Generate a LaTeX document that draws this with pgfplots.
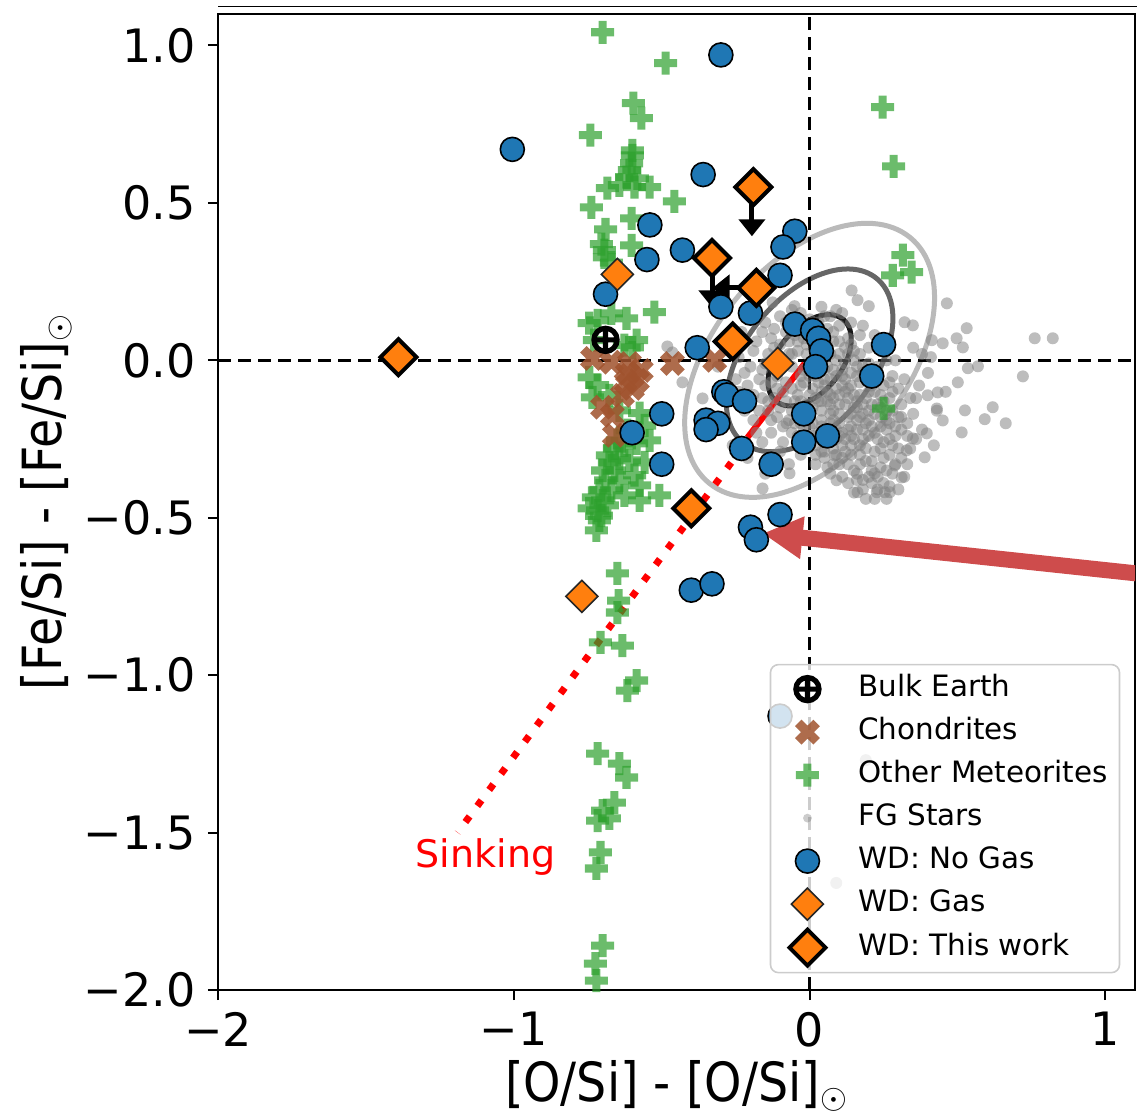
\documentclass[border=0pt]{standalone}
\usepackage{pgfplots}
\pgfplotsset{compat=1.18}
\usepackage{fontspec}
\setmainfont{DejaVu Sans}
\newfontfamily\condfont[FakeStretch=0.88]{DejaVu Sans}
\usetikzlibrary{arrows.meta}

\definecolor{wdblue}{HTML}{1F77B4}
\definecolor{wdorange}{HTML}{FF7F0E}
\definecolor{metgreen}{HTML}{2CA02C}
\definecolor{chondbrown}{HTML}{A0522D}
\definecolor{arrowred}{RGB}{206,76,76}

% square diamond (matplotlib 'D')
\pgfdeclareplotmark{Dmd}{%
  \pgfpathmoveto{\pgfqpoint{0pt}{\pgfplotmarksize}}%
  \pgfpathlineto{\pgfqpoint{\pgfplotmarksize}{0pt}}%
  \pgfpathlineto{\pgfqpoint{0pt}{-\pgfplotmarksize}}%
  \pgfpathlineto{\pgfqpoint{-\pgfplotmarksize}{0pt}}%
  \pgfpathclose\pgfusepathqfillstroke}
% filled plus (matplotlib 'P')
\pgfdeclareplotmark{Pfill}{%
  \pgfpathrectanglecorners{\pgfqpoint{-\pgfplotmarksize}{-0.35\pgfplotmarksize}}{\pgfqpoint{\pgfplotmarksize}{0.35\pgfplotmarksize}}%
  \pgfpathrectanglecorners{\pgfqpoint{-0.35\pgfplotmarksize}{-\pgfplotmarksize}}{\pgfqpoint{0.35\pgfplotmarksize}{\pgfplotmarksize}}%
  \pgfusepathqfill}
% filled x (matplotlib 'X')
\pgfdeclareplotmark{Xfill}{%
  \pgfscope\pgftransformrotate{45}%
  \pgfpathrectanglecorners{\pgfqpoint{-\pgfplotmarksize}{-0.35\pgfplotmarksize}}{\pgfqpoint{\pgfplotmarksize}{0.35\pgfplotmarksize}}%
  \pgfpathrectanglecorners{\pgfqpoint{-0.35\pgfplotmarksize}{-\pgfplotmarksize}}{\pgfqpoint{0.35\pgfplotmarksize}{\pgfplotmarksize}}%
  \pgfusepathqfill\endpgfscope}
% bold circled plus (Earth symbol)
\pgfdeclareplotmark{Earth}{%
  \pgfscope\pgfsetlinewidth{2.6pt}\pgfsetstrokecolor{black}%
  \pgfpathcircle{\pgfpointorigin}{\pgfplotmarksize}%
  \pgfpathmoveto{\pgfqpoint{-\pgfplotmarksize}{0pt}}\pgfpathlineto{\pgfqpoint{\pgfplotmarksize}{0pt}}%
  \pgfpathmoveto{\pgfqpoint{0pt}{-\pgfplotmarksize}}\pgfpathlineto{\pgfqpoint{0pt}{\pgfplotmarksize}}%
  \pgfusepathqstroke\endpgfscope}

\begin{document}
\begin{tikzpicture}
\begin{axis}[name=ax, scale only axis, width=458.5pt, height=488pt,
  xmin=-2, xmax=1.1, ymin=-2, ymax=1.1,
  xtick={-2,-1,0,1}, xticklabels={−2,−1,0,1},
  ytick={-2,-1.5,-1,-0.5,0,0.5,1},
  yticklabels={−2.0,−1.5,−1.0,−0.5,0.0,0.5,1.0},
  tick pos=left, tick align=outside, major tick length=5pt,
  every tick/.style={black, line width=1pt},
  axis line style={line width=1pt},
  ticklabel style={font=\fontsize{23}{23}\selectfont, inner sep=0pt},
  yticklabel style={xshift=-6pt},
  xticklabel style={yshift=-6pt},
  xlabel={[O/Si] - [O/Si]$_{\odot}$},
  ylabel={[Fe/Si] - [Fe/Si]$_{\odot}$},
  label style={font=\condfont\fontsize{27}{27}\selectfont},
  xlabel style={at={([yshift=-48pt]axis description cs:0.5,0)}, anchor=center},
  ylabel style={at={([xshift=-86pt]axis description cs:0,0.5)}, anchor=center},
  legend image code/.code={\path[draw=none, fill=none] (-14.5pt,-5pt) rectangle (8pt,5pt);
    \draw[only marks] plot coordinates {(0pt,0pt)};},
  legend style={at={(0.984,0.017)}, anchor=south east, draw=black!20,
    line width=0.8pt, rounded corners=4pt, fill=white, fill opacity=0.8,
    draw opacity=1, text opacity=1, font=\fontsize{14.7}{17}\selectfont,
    inner xsep=4pt, inner ysep=3.5pt, row sep=4pt, column sep=14.5pt,
    nodes={inner sep=2pt, text height=10.5pt, text depth=3pt}},
  legend cell align=left,
]

% FG stars
\addplot[forget plot, only marks, mark=*, mark size=3pt,
  mark options={fill=black!50, fill opacity=0.52, draw opacity=0}] coordinates {
(-0.12,0.10) (-0.08,0.12) (-0.05,0.08) (-0.10,0.05) (-0.14,0.02) (-0.09,0.00)
(-0.04,0.03) (0.00,0.09) (0.03,0.12) (0.06,0.10) (0.08,0.06) (0.04,0.04)
(0.01,0.00) (-0.02,-0.03) (-0.06,-0.02) (-0.11,-0.05) (-0.15,-0.08) (-0.08,-0.07)
(-0.03,-0.08) (0.02,-0.05) (0.06,-0.02) (0.10,0.02) (0.12,-0.01) (0.09,-0.05)
(0.05,-0.08) (0.00,-0.11) (-0.05,-0.13) (-0.10,-0.15) (-0.13,-0.19) (-0.07,-0.19)
(-0.02,-0.16) (0.03,-0.13) (0.07,-0.11) (0.11,-0.08) (0.14,-0.04) (0.17,-0.07)
(0.15,-0.11) (0.12,-0.14) (0.08,-0.16) (0.04,-0.19) (0.00,-0.21) (-0.04,-0.24)
(-0.09,-0.26) (-0.12,-0.30) (0.02,-0.27) (0.06,-0.23) (0.10,-0.20) (0.13,-0.18)
(0.16,-0.15) (0.19,-0.12) (0.21,-0.08) (0.18,-0.02) (0.15,0.03) (0.13,0.07)
(0.10,0.11) (0.22,-0.17) (0.19,-0.20) (0.16,-0.22) (0.12,-0.25) (0.08,-0.28)
(0.05,-0.31) (0.10,-0.33) (0.14,-0.30) (0.17,-0.27) (0.20,-0.24) (0.24,-0.21)
(0.25,-0.26) (0.22,-0.29) (0.19,-0.32) (0.15,-0.35) (0.20,-0.37) (0.24,-0.34)
(0.27,-0.30) (0.29,-0.24) (0.26,-0.16) (0.24,-0.11) (0.28,-0.05) (0.23,-0.02)
(0.31,-0.14) (0.33,-0.20) (0.30,-0.28) (0.25,-0.39) (0.18,-0.41) (0.22,-0.44)
(0.13,-0.39) (0.07,-0.36) (0.02,-0.33) (-0.03,-0.30) (-0.07,-0.33) (0.11,0.15)
(0.04,0.17) (-0.03,0.15) (-0.15,0.12) (-0.18,0.06) (-0.20,-0.02) (-0.19,-0.11)
(-0.22,-0.16) (-0.18,-0.23) (-0.25,-0.06) (-0.27,0.03) (-0.23,0.09) (0.07,0.02)
(0.03,-0.02) (-0.01,0.05) (0.09,-0.09) (0.13,-0.12) (0.17,-0.18) (0.21,-0.21)
(0.11,-0.23) (0.06,-0.13) (0.01,-0.09) (0.04,-0.16) (0.08,-0.19) (0.14,-0.21)
(0.18,-0.14) (0.20,-0.10) (0.16,-0.05) (0.12,-0.06) (0.08,-0.12) (0.05,-0.06)
(0.10,-0.17) (0.15,-0.25) (0.19,-0.28) (0.12,-0.29) (0.09,-0.25) (0.23,-0.25)
(0.27,-0.20) (0.03,-0.23) (-0.01,-0.18) (-0.05,-0.20) (-0.09,-0.10) (-0.12,-0.12)
(-0.16,-0.03) (-0.07,0.06) (0.00,0.13) (0.07,0.14) (0.17,0.08) (0.20,0.04)
(0.26,0.00) (0.30,-0.09) (0.35,-0.17) (0.36,-0.25) (0.33,-0.33) (0.28,-0.36)
(0.30,-0.41) (0.26,-0.44) (-0.28,-0.12) (-0.31,-0.02) (-0.33,-0.21) (-0.26,-0.27)
(-0.21,-0.31) (-0.15,-0.36) (0.37,-0.08) (0.40,-0.04) (0.38,0.02)
(0.02,0.02) (0.05,0.01) (0.09,0.00) (0.11,-0.03) (0.07,-0.06) (0.03,-0.07)
(0.00,-0.05) (-0.03,-0.05) (-0.06,0.02) (-0.02,0.07) (0.01,0.11) (0.05,0.14)
(0.08,0.09) (0.12,0.04) (0.15,0.00) (0.18,-0.04) (0.22,-0.05) (0.25,-0.08)
(0.27,-0.12) (0.23,-0.14) (0.20,-0.16) (0.17,-0.11) (0.14,-0.08) (0.10,-0.11)
(0.06,-0.10) (0.02,-0.12) (-0.01,-0.14) (-0.04,-0.11) (-0.08,-0.13) (-0.11,-0.09)
(-0.06,-0.16) (-0.03,-0.20) (0.01,-0.24) (0.05,-0.26) (0.09,-0.22) (0.13,-0.22)
(0.16,-0.19) (0.20,-0.19) (0.24,-0.18) (0.28,-0.16) (0.31,-0.22) (0.27,-0.25)
(0.24,-0.28) (0.21,-0.32) (0.17,-0.30) (0.13,-0.33) (0.09,-0.30) (0.06,-0.34)
(0.11,-0.37) (0.16,-0.38) (0.21,-0.39) (0.27,-0.40) (0.23,-0.41) (0.32,-0.37)
(0.34,-0.28) (0.38,-0.22) (0.42,-0.27) (0.36,-0.12) (0.32,-0.06) (0.29,0.00)
(0.25,0.04) (0.22,0.08) (0.18,0.11) (0.14,0.12) (0.09,0.16) (0.19,-0.44)
(0.15,-0.42) (-0.13,-0.23) (-0.17,-0.16) (-0.14,-0.13) (-0.21,-0.08) (-0.24,0.01)
(-0.19,0.03) (-0.13,0.07) (-0.16,0.09) (-0.10,0.14) (-0.06,0.16) (0.43,-0.16)
(0.46,-0.10) (0.41,0.01) (0.35,0.04) (0.04,-0.29) (-0.01,-0.27) (0.11,-0.27)
(0.18,-0.25) (0.14,-0.17) (0.07,-0.17) (0.12,-0.10) (0.16,-0.13) (0.04,-0.10)
(-0.02,-0.07)
(0.03,0.05) (0.06,0.05) (0.10,0.06) (0.13,0.02) (0.16,-0.02) (0.19,-0.06)
(0.22,-0.10) (0.25,-0.13) (0.28,-0.10) (0.30,-0.18) (0.26,-0.22) (0.22,-0.23)
(0.18,-0.22) (0.14,-0.24) (0.10,-0.24) (0.07,-0.20) (0.04,-0.21) (0.01,-0.20)
(-0.02,-0.22) (-0.06,-0.23) (-0.09,-0.21) (-0.11,-0.18) (-0.14,-0.16) (-0.16,-0.12)
(-0.13,-0.07) (-0.10,-0.02) (-0.07,0.02) (-0.04,0.06) (-0.01,0.02) (0.02,-0.01)
(0.05,-0.03) (0.08,-0.03) (0.11,-0.05) (0.13,-0.09) (0.10,-0.14) (0.07,-0.14)
(0.04,-0.13) (0.01,-0.15) (-0.03,-0.13) (-0.06,-0.09) (0.15,-0.15) (0.18,-0.17)
(0.21,-0.14) (0.24,-0.15) (0.26,-0.19) (0.29,-0.21) (0.28,-0.27) (0.25,-0.31)
(0.21,-0.35) (0.17,-0.33) (0.14,-0.27) (0.11,-0.31) (0.08,-0.33) (0.05,-0.29)
(0.02,-0.30) (0.16,-0.36) (0.18,-0.38) (0.23,-0.37) (0.26,-0.35) (0.29,-0.33)
(0.31,-0.31) (0.33,-0.24) (0.31,-0.18) (0.34,-0.12) (0.27,-0.07) (0.20,-0.01)
(0.17,0.02) (0.14,0.05) (-0.05,0.11) (-0.08,0.09) (-0.12,0.04) (-0.15,-0.01)
(-0.17,-0.06) (-0.20,-0.13) (-0.24,-0.10) (-0.22,-0.04) (-0.19,-0.19) (-0.16,-0.26)
(-0.10,-0.29)
(0.142,0.222) (0.162,0.191) (0.200,0.172) (0.464,0.181) (-0.051,0.172) (-0.125,0.184)
(0.321,0.121) (0.349,0.111) (0.413,0.064) (0.450,0.054) (0.497,0.070) (0.531,0.102)
(0.518,0.041) (0.761,0.070) (0.822,0.070) (0.721,-0.051) (0.569,-0.019) (0.535,-0.025)
(0.501,-0.070) (0.619,-0.149) (0.592,-0.187) (0.663,-0.200) (0.514,-0.229) (0.525,-0.159)
(0.450,-0.191) (0.430,-0.153) (0.399,-0.111) (0.433,-0.102) (0.396,-0.232) (0.349,-0.248)
(0.389,-0.308) (0.328,-0.286) (0.311,-0.372) (0.288,-0.334) (0.220,-0.359) (0.162,-0.419)
(0.227,-0.419) (0.254,-0.419) (0.271,-0.419) (0.091,-0.381) (0.085,-0.302) (-0.068,-0.359)
(-0.078,-0.200) (-0.159,-0.407) (-0.481,0.044) (-0.430,-0.070) (-0.464,0.025) (-0.362,-0.121)
(0.19,-1.27) (0.09,-1.66)
};

% 1-2-3 sigma ellipses
\draw[line width=2.5pt, black!27, rotate around={50.7:(axis cs:0,0)}]
  (axis cs:0,0) ellipse [x radius=79.35pt, y radius=47.95pt];
\draw[line width=2.5pt, black!60, rotate around={50.7:(axis cs:0,0)}]
  (axis cs:0,0) ellipse [x radius=52.9pt, y radius=31.97pt];
\draw[line width=2.5pt, black!90, rotate around={50.7:(axis cs:0,0)}]
  (axis cs:0,0) ellipse [x radius=26.45pt, y radius=15.98pt];

% solar reference lines
\draw[black, line width=1.5pt, dash pattern=on 6.5pt off 3.5pt]
  (axis cs:0,-2) -- (axis cs:0,1.1);
\draw[black, line width=1.5pt, dash pattern=on 6.5pt off 3.5pt]
  (axis cs:-2,0) -- (axis cs:1.1,0);

% other meteorites
\addplot[forget plot, only marks, mark=Pfill, mark size=5.75pt,
  color=metgreen, fill opacity=0.7] coordinates {
(-0.700,1.042) (-0.487,0.944) (-0.596,0.817) (-0.569,0.769) (-0.741,0.715)
(-0.599,0.667) (-0.599,0.651) (-0.602,0.626) (-0.609,0.604) (-0.619,0.582)
(-0.582,0.578) (-0.592,0.550) (-0.643,0.556) (-0.684,0.547) (-0.541,0.550)
(-0.457,0.505) (-0.738,0.486) (-0.602,0.451) (-0.690,0.416) (-0.704,0.369)
(-0.694,0.350) (-0.602,0.365) (-0.694,0.327) (-0.670,0.310) (-0.525,0.153)
(-0.717,0.127) (-0.619,0.133) (-0.670,0.149) (-0.745,0.118)
(0.247,0.804) (0.284,0.616) (0.315,0.334) (0.345,0.280) (0.281,0.270) (0.250,-0.153)
(-0.728,0.064) (-0.626,0.048) (-0.585,0.064) (-0.599,0.041) (-0.745,-0.054)
(-0.734,-0.118) (-0.717,-0.079) (-0.677,-0.111) (-0.643,-0.159)
(-0.575,-0.168) (-0.585,-0.264) (-0.508,-0.429) (-0.575,-0.445) (-0.541,-0.254)
(-0.558,-0.207) (-0.616,-0.222)
(-0.721,-0.540) (-0.711,-0.508) (-0.717,-0.477) (-0.700,-0.445) (-0.711,-0.413)
(-0.690,-0.381) (-0.700,-0.350) (-0.677,-0.324) (-0.684,-0.302) (-0.660,-0.280)
(-0.650,-0.254) (-0.670,-0.413) (-0.684,-0.461) (-0.731,-0.435) (-0.660,-0.350)
(-0.643,-0.311) (-0.626,-0.270) (-0.643,-0.381) (-0.609,-0.318) (-0.592,-0.365)
(-0.558,-0.324) (-0.575,-0.397) (-0.626,-0.429) (-0.704,-0.493) (-0.745,-0.470)
(-0.650,-0.677) (-0.646,-0.763) (-0.650,-0.801) (-0.707,-0.896) (-0.633,-0.906)
(-0.585,-1.017) (-0.616,-1.049) (-0.717,-1.249) (-0.643,-1.281) (-0.619,-1.325)
(-0.660,-1.405) (-0.700,-1.430) (-0.717,-1.462) (-0.677,-1.455) (-0.707,-1.563)
(-0.721,-1.614) (-0.700,-1.859) (-0.724,-1.916) (-0.721,-1.970)
};

% chondrites
\addplot[forget plot, only marks, mark=Xfill, mark size=6.5pt,
  color=chondbrown, fill opacity=0.85] coordinates {
(-0.734,0.006) (-0.670,-0.006) (-0.609,-0.010) (-0.616,-0.041) (-0.582,-0.064)
(-0.569,-0.032) (-0.599,-0.089) (-0.633,-0.111) (-0.700,-0.149) (-0.667,-0.175)
(-0.660,-0.238) (-0.464,-0.010) (-0.321,0.000) (-0.620,-0.070)
};

% sinking track
\draw[red, line width=3pt] (axis cs:-0.017,-0.010) -- (axis cs:-0.21,-0.245);
\draw[red, line width=3.5pt, dash pattern=on 3.5pt off 6.5pt]
  (axis cs:-0.265,-0.325) -- (axis cs:-1.19,-1.50);
\node[red, font=\fontsize{19}{19}\selectfont] at (axis cs:-1.096,-1.579) {Sinking};

% bulk Earth
\addplot[forget plot, only marks, mark=Earth, mark size=5.8pt, draw=black]
  coordinates {(-0.69,0.065)};

% WD: no gas
\addplot[forget plot, only marks, mark=*, mark size=6pt, draw=black,
  fill=wdblue, line width=0.8pt] coordinates {
(-1.005,0.670) (-0.30,0.97) (-0.36,0.59) (-0.54,0.43) (-0.55,0.32) (-0.43,0.35)
(-0.69,0.21) (-0.05,0.41) (-0.09,0.36) (-0.10,0.27) (-0.30,0.17) (-0.20,0.15)
(-0.05,0.115) (0.01,0.095) (0.03,0.07) (0.04,0.03) (0.02,-0.02) (-0.38,0.04)
(0.25,0.05) (0.21,-0.05) (-0.29,-0.10) (-0.28,-0.11) (-0.22,-0.13) (-0.50,-0.17)
(-0.35,-0.19) (-0.31,-0.20) (-0.35,-0.22) (-0.02,-0.17) (0.06,-0.24) (-0.02,-0.26)
(-0.23,-0.28) (-0.13,-0.33) (-0.50,-0.33) (-0.60,-0.23) (-0.10,-0.49) (-0.20,-0.53)
(-0.18,-0.57) (-0.40,-0.73) (-0.33,-0.71) (-0.10,-1.13)
};

% upper limits
\draw[black, line width=2.5pt, -{Triangle[length=8.5pt,width=13pt]}]
  (axis cs:-0.195,0.55) -- (axis cs:-0.195,0.394);
\draw[black, line width=2.5pt, -{Triangle[length=8.5pt,width=13pt]}]
  (axis cs:-0.33,0.325) -- (axis cs:-0.33,0.168);
\draw[black, line width=2.5pt, -{Triangle[length=8.5pt,width=13pt]}]
  (axis cs:-0.18,0.23) -- (axis cs:-0.328,0.23);

% WD: gas
\addplot[forget plot, only marks, mark=Dmd, mark size=8pt, draw=black!85,
  fill=wdorange, line width=0.8pt] coordinates {
(-0.65,0.273) (-0.108,-0.01) (-0.77,-0.75)
};

% WD: this work
\addplot[forget plot, only marks, mark=Dmd, mark size=9pt, draw=black,
  fill=wdorange, line width=2pt] coordinates {
(-1.39,0.01) (-0.19,0.55) (-0.33,0.325) (-0.18,0.23) (-0.26,0.06) (-0.40,-0.47)
};

% pointer arrow
\draw[arrowred, line width=8pt, -{Triangle[length=20pt,width=20pt]}]
  (axis cs:1.107,-0.677) -- (axis cs:-0.159,-0.55);

% legend
\addlegendimage{only marks, mark=Earth, mark size=5.8pt, draw=black}
\addlegendentry{Bulk Earth}
\addlegendimage{only marks, mark=Xfill, mark size=6.5pt, color=chondbrown, fill opacity=0.85}
\addlegendentry{Chondrites}
\addlegendimage{only marks, mark=Pfill, mark size=5.75pt, color=metgreen, fill opacity=0.7}
\addlegendentry{Other Meteorites}
\addlegendimage{only marks, mark=*, mark size=2.2pt, mark options={fill=black!50, fill opacity=0.4, draw opacity=0}}
\addlegendentry{FG Stars}
\addlegendimage{only marks, mark=*, mark size=6pt, draw=black, fill=wdblue, line width=0.8pt, fill opacity=1}
\addlegendentry{WD: No Gas}
\addlegendimage{only marks, mark=Dmd, mark size=8pt, draw=black!85, fill=wdorange, line width=0.8pt, fill opacity=1}
\addlegendentry{WD: Gas}
\addlegendimage{only marks, mark=Dmd, mark size=9pt, draw=black, fill=wdorange, line width=2pt, fill opacity=1}
\addlegendentry{WD: This work}
\end{axis}
\draw[line width=0.5pt] ([yshift=3.5pt]ax.north west) -- ([yshift=3.5pt,xshift=1pt]ax.north east);
\pgfresetboundingbox
\path ([xshift=-109pt,yshift=-61.5pt]ax.south west) rectangle ([xshift=1pt,yshift=7pt]ax.north east);
\end{tikzpicture}
\end{document}
